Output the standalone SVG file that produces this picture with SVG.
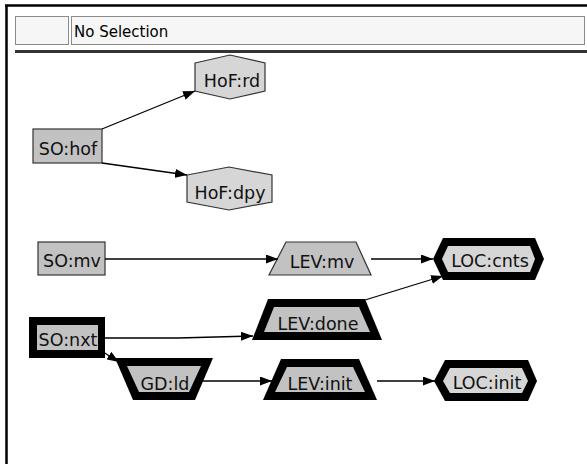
<svg xmlns="http://www.w3.org/2000/svg" width="587" height="464" viewBox="0 0 587 464">
<defs>
<style>
.lbl{font-family:"DejaVu Sans","Liberation Sans",sans-serif;font-size:17.5px;fill:#111;text-anchor:middle}
.thin{stroke:#333;stroke-width:1.2}
.g1{fill:#c2c2c2}
.g2{fill:#d6d6d6}
.blk{fill:#000}
.edge{fill:none;stroke:#000;stroke-width:1.3;marker-end:url(#ah)}
</style>
<marker id="ah" markerUnits="userSpaceOnUse" markerWidth="13" markerHeight="9" refX="12" refY="4.5" orient="auto">
<path d="M0,0 L12,4.5 L0,9 z" fill="#000"/>
</marker>
</defs>
<rect x="0" y="0" width="587" height="464" fill="#fff"/>
<g id="toolbar">
<line x1="5" y1="5.5" x2="587" y2="5.5" stroke="#000" stroke-width="2.5"/>
<line x1="6.5" y1="5" x2="6.5" y2="464" stroke="#000" stroke-width="2.5"/>
<rect x="15.5" y="16.5" width="53" height="28" fill="#f6f6f6" stroke="#8a8a8a"/>
<rect x="71.5" y="16.5" width="513" height="28" fill="#f6f6f6" stroke="#8a8a8a"/>
<text x="74" y="37" font-family="DejaVu Sans, Liberation Sans, sans-serif" font-size="15" fill="#000">No Selection</text>
<rect x="15" y="50" width="572" height="3" fill="#333"/>
</g>
<g id="nodes">
<g id="n-sohof">
<rect x="33" y="129" width="69" height="34" class="g1 thin"/>
<text class="lbl" x="68" y="155">SO:hof</text>
</g>
<g id="n-hofrd">
<polygon points="195,63 230,55 265,63 265,91 230,99 195,91" class="g2 thin"/>
<text class="lbl" x="232" y="87">HoF:rd</text>
</g>
<g id="n-hofdpy">
<polygon points="187,175 229,167 272,175 272,202 229,210 187,202" class="g2 thin"/>
<text class="lbl" x="230" y="199">HoF:dpy</text>
</g>
<g id="n-somv">
<rect x="38" y="242" width="67" height="33" class="g1 thin"/>
<text class="lbl" x="72" y="267">SO:mv</text>
</g>
<g id="n-levmv">
<polygon points="286,242 356,242 371,275 269,275" class="g1 thin"/>
<text class="lbl" x="322" y="268">LEV:mv</text>
</g>
<g id="n-loccnts">
<polygon points="433,259 443,238 535,238 544,259 535,280 443,280" class="blk"/>
<polygon points="442,259 448,246 530,246 535,259 530,272 448,272" class="g2"/>
<text class="lbl" x="490" y="267">LOC:cnts</text>
</g>
<g id="n-sonxt">
<rect x="29" y="317" width="76" height="41" class="blk"/>
<rect x="37" y="325" width="61" height="25" class="g1"/>
<text class="lbl" x="68" y="346">SO:nxt</text>
</g>
<g id="n-levdone">
<polygon points="268,299 365,299 382,340 252,340" class="blk"/>
<polygon points="274,307 359,307 370,332 264,332" class="g1"/>
<text class="lbl" x="318" y="330">LEV:done</text>
</g>
<g id="n-gdld">
<polygon points="115,358 213,358 195,400 133,400" class="blk"/>
<polygon points="127,366 201,366 189,392 139,392" class="g1"/>
<text class="lbl" x="165" y="390">GD:ld</text>
</g>
<g id="n-levinit">
<polygon points="281,359 359,359 377,400 263,400" class="blk"/>
<polygon points="287,367 353,367 365,392 275,392" class="g1"/>
<text class="lbl" x="320" y="390">LEV:init</text>
</g>
<g id="n-locinit">
<polygon points="434,381 445,360 528,360 537,381 528,401 445,401" class="blk"/>
<polygon points="443,381 450,368 522,368 528,381 522,393 450,393" class="g2"/>
<text class="lbl" x="487" y="389">LOC:init</text>
</g>
</g>
<g id="connectors">
<path class="edge" d="M102,129 L195,91"/>
<path class="edge" d="M102,163 L187,175"/>
<path class="edge" d="M105,259 L278,259"/>
<path class="edge" d="M371,259 L433,259"/>
<path class="edge" d="M365,300 L443,276"/>
<path class="edge" d="M105,338 L178,338 L253,336"/>
<path class="edge" d="M100,350 L119,362"/>
<path class="edge" d="M197,381 L272,381"/>
<path class="edge" d="M377,381 L435,381"/>
</g>
</svg>
